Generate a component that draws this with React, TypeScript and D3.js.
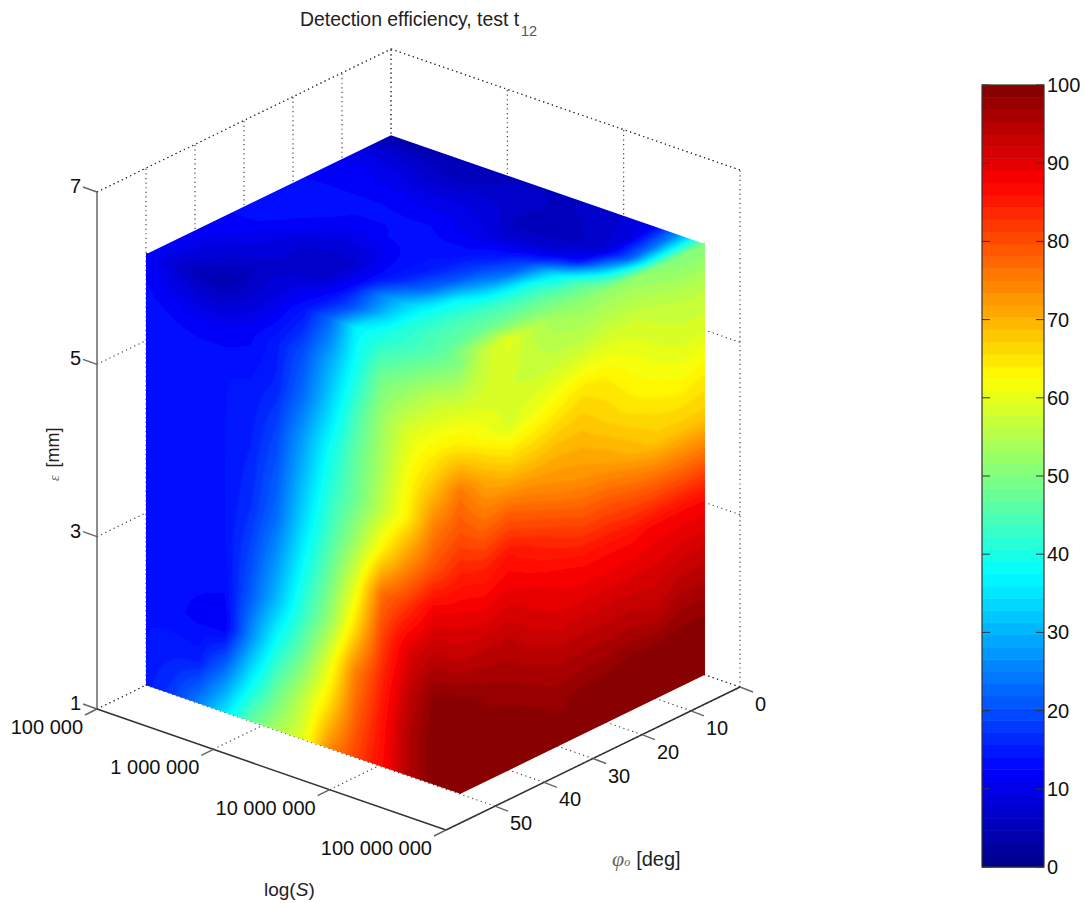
import React, { useMemo } from 'react';
import * as d3 from 'd3';

// axis ticks
const sTicks = [1e5, 1e6, 1e7, 1e8];
const sTickLabels = ['100 000', '1 000 000', '10 000 000', '100 000 000'];
const phiTicks = [0, 10, 20, 30, 40, 50];
const epsTicks = [1, 3, 5, 7];
const barTicks = [0, 10, 20, 30, 40, 50, 60, 70, 80, 90, 100];

// measured nodes on the three faces of the cube
const sNodes = [1e5, 1.68e5, 2.82e5, 4.73e5, 7.94e5, 1.33e6, 2.24e6, 3.76e6, 6.31e6, 1.06e7, 1.78e7, 2.99e7, 5e7];
const phiNodes = [50, 45, 40, 35, 30, 25, 20, 15, 10, 5, 0];
const epsNodes = [6, 5.5, 5, 4.5, 4, 3.5, 3, 2.5, 2, 1.5, 1];

// phi = 50, rows eps 6 -> 1, cols S
const leftFace = [
  [12, 8, 5, 4, 7, 10, 14, 22, 36, 40, 43, 46, 50],
  [13, 12, 11, 11, 12, 15, 20, 29, 39, 49, 52, 56, 58],
  [14, 14, 14, 14, 14, 16, 23, 33, 44, 53, 59, 62, 65],
  [14, 14, 14, 14, 15, 19, 28, 38, 47, 54, 62, 68, 76],
  [14, 14, 14, 14, 16, 21, 31, 41, 48, 56, 64, 75, 80],
  [14, 14, 13, 14, 17, 23, 34, 44, 53, 64, 73, 80, 85],
  [14, 13, 13, 14, 19, 27, 38, 48, 60, 77, 82, 89, 90],
  [14, 13, 13, 13, 21, 31, 42, 52, 66, 81, 90, 94, 94],
  [14, 13, 12, 11, 26, 39, 48, 60, 75, 84, 93, 99, 100],
  [14, 15, 15, 23, 36, 47, 56, 66, 78, 86, 95, 100, 100],
  [15, 18, 25, 35, 47, 54, 60, 74, 81, 87, 95, 100, 100],
];

// S = 5e7, rows eps 6 -> 1, cols phi 50 -> 0
const rightFace = [
  [50, 57, 60, 56, 53, 52, 52, 52, 51, 50, 50],
  [58, 58, 58, 57, 57, 57, 58, 58, 57, 56, 56],
  [65, 62, 59, 61, 63, 65, 64, 62, 60, 59, 59],
  [76, 71, 68, 68, 69, 69, 67, 65, 64, 63, 64],
  [80, 77, 78, 76, 74, 73, 72, 70, 68, 68, 68],
  [85, 84, 86, 84, 82, 80, 80, 79, 78, 78, 78],
  [90, 89, 90, 89, 88, 87, 87, 87, 88, 88, 88],
  [94, 94, 94, 92, 91, 91, 91, 91, 91, 92, 92],
  [100, 98, 97, 96, 95, 95, 95, 95, 94, 96, 96],
  [100, 100, 100, 99, 98, 99, 99, 100, 100, 100, 100],
  [100, 100, 100, 100, 100, 100, 100, 100, 100, 100, 100],
];

// eps = 6, rows phi 50 -> 0, cols S
const topFace = [
  [12, 8, 5, 4, 7, 10, 14, 22, 36, 40, 43, 46, 50],
  [12, 9, 7, 6, 8, 10, 13, 20, 31, 40, 44, 47, 57],
  [12, 10, 9, 8, 7, 7, 12, 24, 32, 39, 44, 48, 60],
  [12, 12, 10, 8, 7, 7, 12, 17, 24, 37, 43, 48, 56],
  [13, 13, 12, 10, 9, 10, 13, 15, 20, 30, 41, 48, 53],
  [13, 13, 13, 12, 12, 13, 14, 14, 18, 24, 40, 47, 52],
  [13, 13, 13, 13, 13, 13, 12, 12, 14, 20, 34, 45, 52],
  [12, 12, 12, 12, 11, 11, 10, 8, 8, 9, 14, 33, 52],
  [11, 11, 10, 9, 9, 9, 8, 5, 5, 6, 8, 22, 51],
  [9, 8, 7, 6, 6, 7, 7, 6, 6, 7, 9, 24, 50],
  [3, 3, 4, 5, 5, 6, 6, 6, 7, 8, 11, 27, 50],
];

const W = 1084;
const H = 903;
const FONT = 'Liberation Sans, Arial, sans-serif';
const BANDS = 64;
const SUB = 6;

const sT = d3.scaleLog().domain([1e5, 1e8]).range([0, 1]);
const phiT = d3.scaleLinear().domain([60, 0]).range([0, 1]);
const epsY = d3.scaleLinear().domain([1, 7]).range([709, 192]);
const barY = d3.scaleLinear().domain([0, 100]).range([867, 85]);

// orthographic view of the box
const project = (s: number, phi: number, eps: number): [number, number] => [
  97 + 349 * sT(s) + 294 * phiT(phi),
  epsY(eps) + 121 * sT(s) - 143 * phiT(phi),
];

const jet = d3
  .scaleLinear<string>()
  .domain([0, 0.125, 0.375, 0.625, 0.875, 1])
  .range(['rgb(0,0,135)', 'rgb(0,0,255)', 'rgb(0,255,255)', 'rgb(255,255,0)', 'rgb(255,0,0)', 'rgb(128,0,0)']);
const bandColor = (k: number) => jet((k + 0.5) / BANDS);
const thresholds = d3.range(BANDS).map((k) => (k * 100) / BANDS);

const sAt = d3.scaleLinear().domain(d3.range(sNodes.length)).range(sNodes.map((v) => Math.log10(v)));
const phiAt = d3.scaleLinear().domain(d3.range(phiNodes.length)).range(phiNodes);
const epsAt = d3.scaleLinear().domain(d3.range(epsNodes.length)).range(epsNodes);

// band polygons for one face, shading between the nodes like MATLAB's "interp"
function faceBands(grid: number[][], toScreen: (i: number, j: number) => [number, number]) {
  const rows = grid.length;
  const cols = grid[0].length;
  const nx = (cols - 1) * SUB + 3;
  const ny = (rows - 1) * SUB + 3;
  const values = new Array(nx * ny);
  for (let gy = 0; gy < ny; gy++) {
    const fy = Math.max(0, Math.min(rows - 1, (gy - 1) / SUB));
    const j0 = Math.min(rows - 2, Math.floor(fy));
    const ty = fy - j0;
    for (let gx = 0; gx < nx; gx++) {
      const fx = Math.max(0, Math.min(cols - 1, (gx - 1) / SUB));
      const i0 = Math.min(cols - 2, Math.floor(fx));
      const tx = fx - i0;
      const top = grid[j0][i0] * (1 - tx) + grid[j0][i0 + 1] * tx;
      const bot = grid[j0 + 1][i0] * (1 - tx) + grid[j0 + 1][i0 + 1] * tx;
      values[gy * nx + gx] = top * (1 - ty) + bot * ty;
    }
  }
  const contours = d3.contours().size([nx, ny]).thresholds(thresholds)(values);
  const path = d3.geoPath(
    d3.geoTransform({
      point(x: number, y: number) {
        const p = toScreen((x - 1.5) / SUB, (y - 1.5) / SUB);
        (this as any).stream.point(p[0], p[1]);
      },
    })
  );
  return contours.map((c, k) => ({ k, d: path(c as any) || '' }));
}

const lastS = sNodes[sNodes.length - 1];
// left and right faces run a pixel under the top face so no seam shows
const up = (p: [number, number], dx = 0): [number, number] => [p[0] + dx, p[1] - 1.5];
const faces = [
  {
    id: 'left',
    grid: leftFace,
    toScreen: (i: number, j: number) => project(10 ** sAt(i), 50, epsAt(j)),
    corners: [
      up(project(1e5, 50, 6)),
      up(project(lastS, 50, 6), 1),
      [project(lastS, 50, 1)[0] + 1, project(lastS, 50, 1)[1]],
      project(1e5, 50, 1),
    ],
  },
  {
    id: 'right',
    grid: rightFace,
    toScreen: (i: number, j: number) => project(lastS, phiAt(i), epsAt(j)),
    corners: [up(project(lastS, 50, 6)), up(project(lastS, 0, 6)), project(lastS, 0, 1), project(lastS, 50, 1)],
  },
  {
    id: 'top',
    grid: topFace,
    toScreen: (i: number, j: number) => project(10 ** sAt(i), phiAt(j), 6),
    corners: [project(1e5, 50, 6), project(lastS, 50, 6), project(lastS, 0, 6), project(1e5, 0, 6)],
  },
];

const Seg = ({ a, b, dotted, dark }: { a: [number, number]; b: [number, number]; dotted?: boolean; dark?: boolean }) => (
  <line
    x1={a[0]}
    y1={a[1]}
    x2={b[0]}
    y2={b[1]}
    stroke={dotted ? '#333' : dark ? '#333' : '#666'}
    strokeWidth={dotted ? 1.1 : 1.5}
    strokeDasharray={dotted ? '1.2 3.4' : undefined}
  />
);

const App = () => {
  const bands = useMemo(() => faces.map((f) => ({ ...f, bands: faceBands(f.grid, f.toScreen) })), []);

  const tickS = (p: [number, number]): [number, number] => [p[0] - 12, p[1] + 6];
  const tickPhi = (p: [number, number]): [number, number] => [p[0] + 13, p[1] + 5];
  const tickEps = (p: [number, number]): [number, number] => [p[0] - 14, p[1] - 5];

  return (
    <svg width={W} height={H} style={{ position: 'absolute', left: 0, top: 0, background: '#fff' }} fontFamily={FONT}>
      <defs>
        <filter id="soft" x="-5%" y="-5%" width="110%" height="110%">
          <feGaussianBlur stdDeviation="1.7" />
        </filter>
        {bands.map((f) => (
          <clipPath id={`clip-${f.id}`} key={f.id}>
            <polygon points={f.corners.map((c) => c.join(',')).join(' ')} />
          </clipPath>
        ))}
      </defs>

      <text x={300} y={26} fontSize={19.4} fill="#222">
        Detection efficiency, test t
      </text>
      <text x={521} y={36} fontSize={14.5} fill="#555">
        12
      </text>

      {/* dotted box and grid */}
      <g>
        <Seg dotted a={project(1e5, 60, 7)} b={project(1e5, 0, 7)} />
        <Seg dotted a={project(1e5, 0, 7)} b={project(1e8, 0, 7)} />
        {epsTicks.map((e) => (
          <g key={e}>
            <Seg dotted a={project(1e5, 60, e)} b={project(1e5, 0, e)} />
            <Seg dotted a={project(1e5, 0, e)} b={project(1e8, 0, e)} />
          </g>
        ))}
        {phiTicks.map((p) => (
          <g key={p}>
            <Seg dotted a={project(1e5, p, 1)} b={project(1e5, p, 7)} />
            <Seg dotted a={project(1e5, p, 1)} b={project(1e8, p, 1)} />
          </g>
        ))}
        {sTicks.map((s) => (
          <g key={s}>
            <Seg dotted a={project(s, 0, 1)} b={project(s, 0, 7)} />
            <Seg dotted a={project(s, 60, 1)} b={project(s, 0, 1)} />
          </g>
        ))}
      </g>

      {/* cube faces */}
      {bands.map((f) => (
        <g key={f.id} clipPath={`url(#clip-${f.id})`}>
          <g filter="url(#soft)">
            {f.bands.map((b) => (
              <path key={b.k} d={b.d} fill={bandColor(b.k)} />
            ))}
          </g>
        </g>
      ))}

      {/* axes */}
      <Seg a={project(1e5, 60, 1)} b={project(1e5, 60, 7)} />
      <Seg a={project(1e5, 60, 1)} b={project(1e8, 60, 1)} dark />
      <Seg a={project(1e8, 60, 1)} b={project(1e8, 0, 1)} dark />
      {epsTicks.map((e) => {
        const p = project(1e5, 60, e);
        return (
          <g key={e}>
            <Seg a={p} b={tickEps(p)} />
            <text x={p[0] - 16} y={p[1] + 1} textAnchor="end" fontSize={20} fill="#111">
              {e}
            </text>
          </g>
        );
      })}
      {sTicks.map((s, i) => {
        const p = project(s, 60, 1);
        return (
          <g key={s}>
            <Seg a={p} b={tickS(p)} />
            <text x={p[0] - 14} y={p[1] + 25} textAnchor="end" fontSize={20} fill="#111">
              {sTickLabels[i]}
            </text>
          </g>
        );
      })}
      {phiTicks.map((v) => {
        const p = project(1e8, v, 1);
        return (
          <g key={v}>
            <Seg a={p} b={tickPhi(p)} />
            <text x={p[0] + 15} y={p[1] + 24} fontSize={20} fill="#111">
              {v}
            </text>
          </g>
        );
      })}

      <text x={264} y={896} fontSize={19} fill="#222">
        log(<tspan fontStyle="italic">S</tspan>)
      </text>
      <text x={612} y={866} fontSize={20} fill="#222">
        <tspan fontFamily="Liberation Serif, serif" fontStyle="italic" fontSize={22} fill="#666">
          φ
        </tspan>
        <tspan fontFamily="Liberation Serif, serif" fontStyle="italic" fontSize={12} fill="#666">
          o
        </tspan>
        <tspan dx={6}>[deg]</tspan>
      </text>
      <text transform="translate(59,481) rotate(-90)" fontSize={18} fill="#222">
        <tspan fontFamily="Liberation Serif, serif" fontStyle="italic" fontSize={14} fill="#666">
          ε
        </tspan>
        <tspan dx={8}>[mm]</tspan>
      </text>

      {/* colour bar */}
      <g>
        {d3.range(BANDS).map((k) => (
          <rect
            key={k}
            x={982}
            width={62}
            y={barY(((k + 1) * 100) / BANDS)}
            height={barY((k * 100) / BANDS) - barY(((k + 1) * 100) / BANDS) + 0.5}
            fill={bandColor(k)}
          />
        ))}
        <rect x={982} y={85} width={62} height={782} fill="none" stroke="#333" strokeWidth={1.2} />
        {barTicks.map((t) => (
          <g key={t}>
            <line x1={982} x2={990} y1={barY(t)} y2={barY(t)} stroke="#333" />
            <line x1={1036} x2={1044} y1={barY(t)} y2={barY(t)} stroke="#333" />
            <text x={1047} y={barY(t) + 7} fontSize={20} fill="#111">
              {t}
            </text>
          </g>
        ))}
      </g>
    </svg>
  );
};

export default App;
